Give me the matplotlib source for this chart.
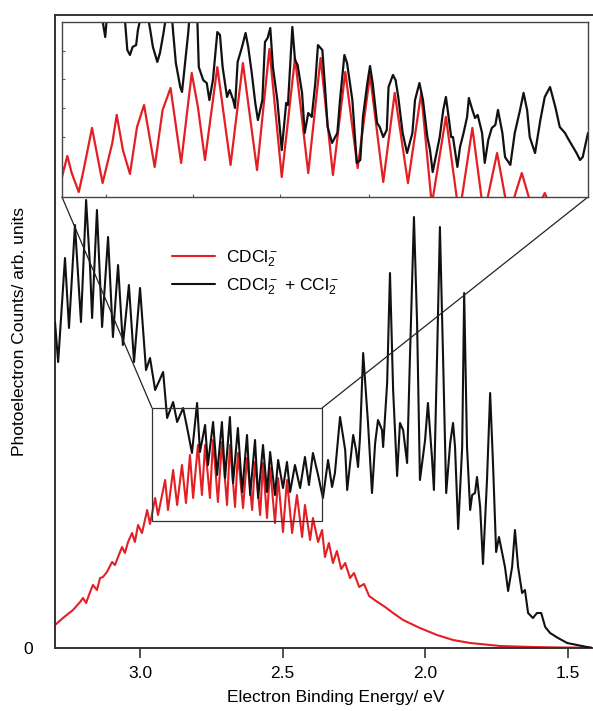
import numpy as np
import matplotlib
matplotlib.use("Agg")
import matplotlib.pyplot as plt
from matplotlib.patches import Rectangle, ConnectionPatch

plt.rcParams["font.family"] = ["Liberation Sans", "DejaVu Sans"]
plt.rcParams["mathtext.fontset"] = "custom"
plt.rcParams["mathtext.rm"] = "Liberation Sans"
plt.rcParams["mathtext.it"] = "Liberation Sans:italic"
plt.rcParams["lines.solid_joinstyle"] = "round"
plt.rcParams["lines.solid_capstyle"] = "round"

# --- full spectrum, CDCl2- only (eV, arb. counts) ---
red_ev = [3.298, 3.270, 3.235, 3.210, 3.200, 3.189, 3.175, 3.165, 3.151, 3.140,
          3.130, 3.116, 3.098, 3.088, 3.077, 3.063, 3.053, 3.042, 3.028, 3.018,
          3.007, 2.993, 2.975, 2.965, 2.947, 2.937, 2.912, 2.902, 2.884, 2.870,
          2.853, 2.839, 2.825, 2.814, 2.797, 2.783, 2.772, 2.755, 2.744, 2.727,
          2.713, 2.695, 2.685, 2.667, 2.657, 2.639, 2.625, 2.607, 2.597, 2.579,
          2.569, 2.555, 2.544, 2.527, 2.516, 2.499, 2.485, 2.467, 2.450, 2.432,
          2.422, 2.404, 2.394, 2.376, 2.362, 2.352, 2.338, 2.324, 2.310, 2.295,
          2.281, 2.264, 2.250, 2.232, 2.215, 2.197, 2.173, 2.141, 2.113, 2.078,
          2.019, 1.959, 1.903, 1.843, 1.738, 1.622, 1.528, 1.416]
red_counts = [23, 30, 38, 46, 50, 45, 56, 63, 58, 70,
              71, 76, 86, 83, 91, 101, 95, 106, 115, 106,
              123, 115, 138, 124, 150, 133, 168, 138, 178, 143,
              183, 145, 193, 150, 203, 153, 203, 150, 208, 146,
              206, 143, 203, 141, 195, 140, 190, 138, 186, 133,
              185, 130, 180, 125, 170, 116, 168, 115, 153, 111,
              143, 108, 130, 106, 118, 91, 105, 85, 97, 79,
              85, 70, 75, 61, 64, 52, 47, 41, 35, 28,
              20, 13, 8, 5, 2, 1, 0.5, 0.3]

# --- full spectrum, CDCl2- + CCl2- ---
mix_ev = [3.298, 3.287, 3.263, 3.249, 3.228, 3.207, 3.189, 3.175, 3.168, 3.151,
          3.133, 3.112, 3.095, 3.077, 3.060, 3.039, 3.021, 3.000, 2.979, 2.965,
          2.947, 2.919, 2.905, 2.884, 2.870, 2.849, 2.832, 2.818, 2.800, 2.790,
          2.772, 2.762, 2.744, 2.730, 2.713, 2.702, 2.685, 2.674, 2.657, 2.642,
          2.625, 2.614, 2.597, 2.586, 2.569, 2.555, 2.544, 2.527, 2.516, 2.499,
          2.485, 2.474, 2.457, 2.439, 2.422, 2.408, 2.394, 2.376, 2.359, 2.341,
          2.327, 2.317, 2.299, 2.281, 2.274, 2.253, 2.243, 2.236, 2.229, 2.218,
          2.201, 2.187, 2.176, 2.166, 2.152, 2.148, 2.134, 2.124, 2.113, 2.099,
          2.089, 2.078, 2.064, 2.054, 2.040, 2.029, 2.019, 2.001, 1.991, 1.977,
          1.970, 1.959, 1.949, 1.938, 1.927, 1.913, 1.903, 1.896, 1.885, 1.871,
          1.864, 1.854, 1.843, 1.836, 1.826, 1.819, 1.808, 1.798, 1.784, 1.773,
          1.763, 1.752, 1.742, 1.728, 1.721, 1.710, 1.696, 1.686, 1.675, 1.661,
          1.651, 1.640, 1.623, 1.609, 1.594, 1.580, 1.563, 1.535, 1.503, 1.468,
          1.433, 1.416]
mix_counts = [326, 286, 390, 320, 423, 326, 448, 380, 330, 438,
              321, 411, 311, 383, 303, 363, 286, 360, 278, 290,
              258, 276, 230, 246, 226, 240, 216, 195, 245, 196,
              223, 183, 226, 173, 226, 170, 231, 165, 220, 156,
              213, 153, 208, 150, 203, 156, 196, 153, 188, 160,
              186, 156, 183, 160, 191, 163, 195, 173, 150, 188,
              161, 175, 231, 198, 158, 213, 198, 181, 211, 295,
              225, 155, 205, 228, 218, 201, 265, 375, 258, 172,
              225, 218, 185, 291, 431, 325, 168, 208, 245, 191,
              158, 291, 421, 291, 155, 205, 225, 201, 119, 201,
              355, 201, 138, 153, 155, 171, 141, 84, 168, 255,
              185, 96, 111, 91, 81, 57, 81, 118, 81, 55,
              58, 35, 30, 35, 35, 21, 15, 10, 5, 3,
              1, 0]

# --- magnified region ---
zoom_red_ev = [2.958, 2.952, 2.947, 2.939, 2.934, 2.924, 2.912, 2.901, 2.896, 2.889,
               2.881, 2.873, 2.865, 2.853, 2.844, 2.835, 2.823, 2.811, 2.804, 2.796,
               2.782, 2.767, 2.753, 2.737, 2.723, 2.709, 2.694, 2.679, 2.665, 2.651,
               2.637, 2.623, 2.609, 2.594, 2.581, 2.566, 2.551, 2.539, 2.523, 2.508,
               2.493, 2.480, 2.465, 2.452, 2.437, 2.423, 2.411, 2.398, 2.362]
zoom_red_counts = [139.9, 153.5, 142.5, 130.2, 143.1, 171.6, 136.0, 161.9, 180.0, 157.3,
                   141.9, 172.2, 186.4, 146.4, 183.2, 197.4, 149.0, 207.1, 185.1, 150.9,
                   210.9, 147.7, 213.5, 144.4, 222.6, 139.9, 216.8, 142.5, 216.8, 141.2,
                   207.7, 145.7, 205.8, 136.7, 194.2, 136.0, 194.2, 122, 178.7, 115,
                   171.6, 115, 155.4, 115, 142.5, 115, 129.6, 112, 108]

zoom_mix_ev = [2.958, 2.915, 2.909, 2.906, 2.888, 2.884, 2.881, 2.878, 2.874, 2.872,
               2.867, 2.862, 2.858, 2.855, 2.850, 2.847, 2.843, 2.839, 2.834, 2.832,
               2.829, 2.824, 2.822, 2.819, 2.815, 2.813, 2.805, 2.803, 2.798, 2.794,
               2.791, 2.787, 2.782, 2.779, 2.776, 2.771, 2.768, 2.764, 2.762, 2.759,
               2.754, 2.750, 2.747, 2.743, 2.739, 2.736, 2.731, 2.728, 2.725, 2.722,
               2.719, 2.714, 2.712, 2.709, 2.704, 2.702, 2.697, 2.694, 2.691, 2.686,
               2.683, 2.679, 2.675, 2.671, 2.668, 2.663, 2.660, 2.657, 2.652, 2.646,
               2.643, 2.638, 2.635, 2.629, 2.624, 2.620, 2.617, 2.612, 2.609, 2.606,
               2.601, 2.598, 2.594, 2.590, 2.588, 2.583, 2.580, 2.577, 2.572, 2.567,
               2.561, 2.558, 2.553, 2.549, 2.544, 2.541, 2.538, 2.533, 2.530, 2.526,
               2.523, 2.521, 2.517, 2.515, 2.510, 2.507, 2.503, 2.499, 2.497, 2.493,
               2.490, 2.487, 2.482, 2.479, 2.475, 2.471, 2.467, 2.464, 2.459, 2.456,
               2.450, 2.445, 2.439, 2.435, 2.431, 2.428, 2.422, 2.416, 2.411, 2.405,
               2.399, 2.394, 2.388, 2.385, 2.379, 2.375, 2.371, 2.368, 2.362]
zoom_mix_counts = [267, 251, 230.3, 251, 251, 221.9, 218.7, 223.9, 225.1, 234.8,
                   247.7, 247.7, 234.8, 223.9, 214.2, 220.0, 232.9, 247.7, 247.7, 232.9,
                   213.5, 198.0, 194.8, 210.9, 232.9, 247.7, 247.7, 210.9, 202.5, 200.6,
                   189.6, 202.5, 233.5, 231.6, 210.9, 191.6, 196.1, 189.6, 184.5, 214.2,
                   223.9, 232.9, 223.9, 207.1, 187.7, 176.7, 189.6, 227.1, 229.7, 236.1,
                   210.9, 189.6, 176.7, 157.3, 187.7, 186.4, 236.8, 215.5, 212.2, 194.2,
                   168.3, 181.2, 178.7, 200.6, 225.1, 221.9, 198.0, 172.2, 161.9, 168.3,
                   189.6, 218.7, 213.5, 189.6, 149.0, 150.9, 178.7, 200.6, 211.6, 200.6,
                   174.8, 172.2, 165.7, 170.3, 198.0, 205.8, 202.5, 191.6, 168.3, 155.4,
                   168.3, 189.6, 200.6, 189.6, 165.7, 157.3, 143.1, 157.3, 165.7, 183.2,
                   191.6, 183.2, 165.7, 165.7, 146.4, 159.3, 168.3, 178.7, 190.9, 183.2,
                   178.0, 180.0, 168.3, 149.0, 163.8, 171.6, 173.5, 183.2, 168.3, 152.8,
                   147.7, 168.3, 183.2, 194.2, 183.2, 165.7, 155.4, 176.7, 191.6, 198.0,
                   185.1, 172.2, 168.3, 165.1, 159.3, 155.4, 150.9, 152.8, 168.3]

zoom_ev = (2.958, 2.362)
zoom_counts = (127, 240)
x_ticks = [3.0, 2.5, 2.0, 1.5]
inset_xticks = [2.908, 2.810, 2.711, 2.610]
inset_yticks = [146.4, 165.7, 184.5, 203.2, 221.3]

RED = "#e41f23"
BLACK = "#111111"
FS = 12.5

fig = plt.figure(figsize=(5.93, 7.11), dpi=100)
ax = fig.add_axes([55 / 593, 63 / 711, 537 / 593, 633 / 711])

ax.plot(red_ev, red_counts, color=RED, lw=1.5, label="CDCl$_2^-$", zorder=2)
ax.plot(mix_ev, mix_counts, color=BLACK, lw=1.5,
        label="CDCl$_2^-$ + CCl$_2^-$", zorder=3)

ax.set_xlim(3.298, 1.416)
ax.set_ylim(0, 633)
ax.set_xticks(x_ticks)
ax.set_xticklabels([f"{t:.1f}" for t in x_ticks])
ax.set_yticks([0])
ax.set_yticklabels(["0"])
ax.tick_params(axis="x", direction="out", length=7, width=1.2, pad=6,
               labelsize=FS, color="#333333")
ax.tick_params(axis="y", length=0, pad=16, labelsize=FS)
for side in ("left", "bottom", "top"):
    ax.spines[side].set_linewidth(1.4)
    ax.spines[side].set_color("#333333")
ax.spines["right"].set_visible(False)

ax.set_xlabel("Electron Binding Energy/ eV", fontsize=FS)
ax.xaxis.set_label_coords(0.523, -0.066)
ax.set_ylabel("Photoelectron Counts/ arb. units", fontsize=FS)
ax.yaxis.set_label_coords(-0.052, 0.5)

ax.legend(loc="center left", bbox_to_anchor=(0.218, 0.593), frameon=False,
          fontsize=FS, handlelength=2.5, handletextpad=0.6, labelspacing=0.45,
          borderpad=0, borderaxespad=0)

# box marking the magnified region
ax.add_patch(Rectangle((zoom_ev[0], zoom_counts[0]),
                       zoom_ev[1] - zoom_ev[0], zoom_counts[1] - zoom_counts[0],
                       fill=False, lw=0.9, ec="#333333", zorder=4))

axins = fig.add_axes([62 / 593, (711 - 197) / 711, 526 / 593, 175 / 711])
axins.set_zorder(5)
axins.plot(zoom_red_ev, zoom_red_counts, color=RED, lw=1.6)
axins.plot(zoom_mix_ev, zoom_mix_counts, color=BLACK, lw=1.6)
axins.set_xlim(*zoom_ev)
axins.set_ylim(*zoom_counts)
axins.set_xticks(inset_xticks)
axins.set_yticks(inset_yticks)
axins.tick_params(direction="in", length=2.5, width=0.8, color="#555555",
                  labelbottom=False, labelleft=False)
for sp in axins.spines.values():
    sp.set_linewidth(1.0)
    sp.set_color("#444444")

for xa, xb in ((zoom_ev[0], 0), (zoom_ev[1], 1)):
    con = ConnectionPatch(xyA=(xa, zoom_counts[1]), coordsA=ax.transData,
                          xyB=(xb, 0), coordsB=axins.transAxes,
                          color="#222222", lw=0.9)
    fig.add_artist(con)

fig.savefig("out.png", dpi=100)
